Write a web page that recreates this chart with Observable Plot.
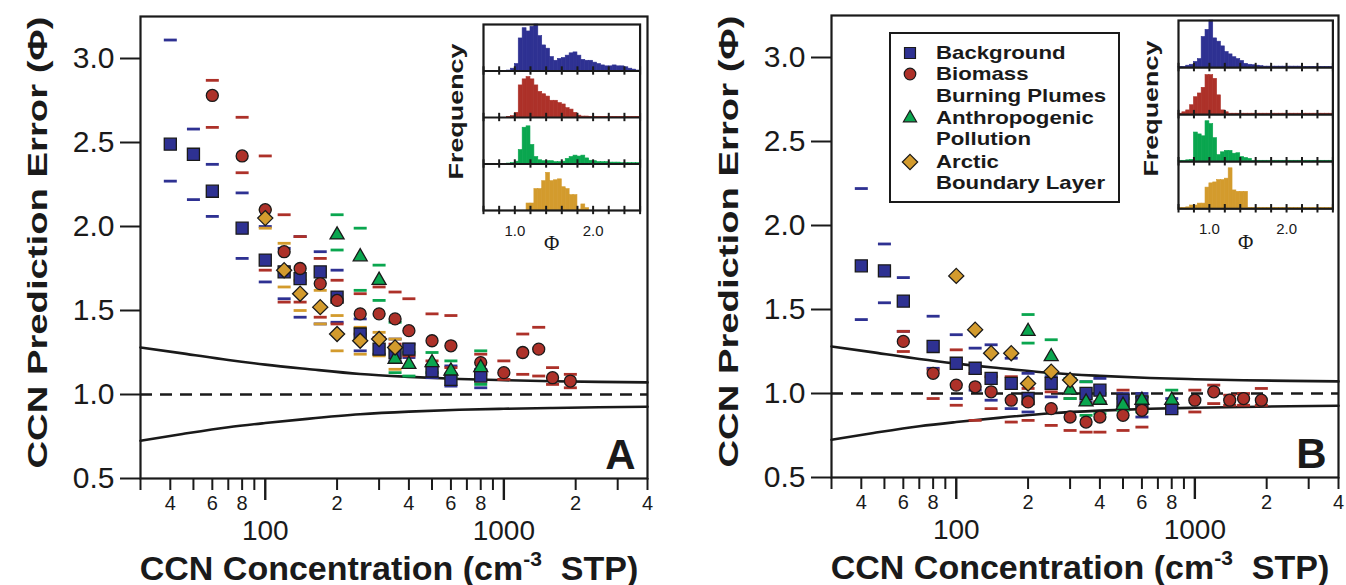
<!DOCTYPE html>
<html>
<head>
<meta charset="utf-8">
<script src="https://cdn.jsdelivr.net/npm/d3@7"></script>
<script src="https://cdn.jsdelivr.net/npm/@observablehq/plot@0.6"></script>
<style>
  body { margin: 0; background: #fff; }
  #wrap { position: relative; width: 1346px; height: 585px; overflow: hidden;
          font-family: "Liberation Sans", Arial, sans-serif; color: #1a1a1a; }
  .legend { position: absolute; box-sizing: border-box; border: 2.5px solid #1a1a1a; background: #fff; }
  .legend .ln { position: absolute; white-space: nowrap; font-weight: bold; font-size: 18.5px;
                line-height: 20px; transform: scaleX(1.2); transform-origin: left center; }
  .legend svg { position: absolute; overflow: visible; }
</style>
</head>
<body>
<div id="wrap"></div>
<script>
// ---------------- series definitions ----------------
const seriesNames   = ["Background", "Biomass Burning Plumes", "Anthropogenic Pollution", "Arctic Boundary Layer"];
const seriesColors  = ["#2e3192", "#ad3129", "#0aa64f", "#d39b2d"];
const seriesSymbols = ["square", "circle", "triangle", "diamond2"];

// ---------------- Panel A data (CCN concentration, Phi, upper, lower) ----------------
const A_bg_N   = [40, 50, 60, 80, 100, 120, 140, 170, 200, 250, 300, 350, 400, 500, 600, 800];
const A_bg_phi = [2.49, 2.43, 2.21, 1.99, 1.80, 1.73, 1.69, 1.73, 1.58, 1.36, 1.27, 1.25, 1.27, 1.14, 1.09, 1.11];
const A_bg_hi  = [3.11, 2.58, 2.37, 2.20, 2.00, 1.87, 1.94, 1.85, 1.74, 1.45, 1.33, 1.33, 1.30, 1.17, 1.17, 1.15];
const A_bg_lo  = [2.27, 2.16, 2.06, 1.81, 1.67, 1.57, 1.46, 1.42, 1.43, 1.26, 1.24, 1.20, 1.22, 1.10, 1.05, 1.04];

const A_bb_N   = [60, 80, 100, 120, 140, 170, 200, 250, 300, 350, 400, 500, 600, 800, 1000, 1200, 1400, 1600, 1900];
const A_bb_phi = [2.78, 2.42, 2.10, 1.85, 1.75, 1.66, 1.56, 1.48, 1.48, 1.45, 1.38, 1.32, 1.29, 1.19, 1.13, 1.25, 1.27, 1.10, 1.08];
const A_bb_hi  = [2.87, 2.65, 2.42, 2.07, 1.94, 1.81, 1.68, 1.60, 1.64, 1.61, 1.57, 1.48, 1.47, 1.24, 1.20, 1.36, 1.40, 1.16, 1.12];
const A_bb_lo  = [2.59, 2.32, 1.74, 1.55, 1.55, 1.46, 1.42, 1.36, 1.34, 1.30, 1.23, 1.20, 1.16, 1.12, 1.09, 1.12, 1.11, 1.06, 1.04];

const A_ap_N   = [200, 250, 300, 350, 400, 500, 600, 800];
const A_ap_phi = [1.95, 1.82, 1.68, 1.21, 1.18, 1.19, 1.14, 1.16];
const A_ap_hi  = [2.07, 1.99, 1.77, 1.43, 1.25, 1.25, 1.20, 1.26];
const A_ap_lo  = [1.86, 1.62, 1.56, 1.13, 1.11, 1.13, 1.10, 1.06];

const A_ar_N   = [100, 120, 140, 170, 200, 250, 300, 350];
const A_ar_phi = [2.05, 1.74, 1.60, 1.52, 1.36, 1.32, 1.33, 1.28];
const A_ar_hi  = [2.10, 1.90, 1.68, 1.62, 1.47, 1.40, 1.37, 1.33];
const A_ar_lo  = [1.99, 1.64, 1.50, 1.42, 1.26, 1.24, 1.23, 1.15];

// ---------------- Panel B data ----------------
const B_bg_N   = [40, 50, 60, 80, 100, 120, 140, 170, 200, 250, 350, 400, 500, 600, 800];
const B_bg_phi = [1.76, 1.73, 1.55, 1.28, 1.18, 1.15, 1.09, 1.06, 0.97, 1.06, 1.00, 1.02, 0.96, 0.95, 0.91];
const B_bg_hi  = [2.22, 1.89, 1.69, 1.46, 1.35, 1.27, 1.29, 1.21, 1.12, 1.10, 1.07, 1.09, 1.00, 1.00, 0.97];
const B_bg_lo  = [1.44, 1.54, 1.37, 1.15, 0.97, 1.02, 0.96, 0.91, 0.89, 0.98, 0.95, 0.95, 0.92, 0.86, 0.89];

const B_bb_N   = [60, 80, 100, 120, 140, 170, 200, 250, 300, 350, 400, 500, 600, 1000, 1200, 1400, 1600, 1900];
const B_bb_phi = [1.31, 1.12, 1.05, 1.04, 1.01, 0.96, 0.95, 0.91, 0.86, 0.83, 0.86, 0.87, 0.90, 0.96, 1.01, 0.96, 0.97, 0.96];
const B_bb_hi  = [1.37, 1.14, 1.26, 1.12, 1.10, 1.10, 1.03, 1.01, 0.97, 0.94, 0.95, 1.02, 0.98, 1.02, 1.05, 0.99, 1.00, 1.03];
const B_bb_lo  = [1.25, 0.97, 0.93, 0.84, 0.91, 0.83, 0.84, 0.81, 0.78, 0.77, 0.77, 0.78, 0.80, 0.89, 0.94, 0.93, 0.93, 0.93];

const B_ap_N   = [200, 250, 300, 350, 400, 500, 600, 800];
const B_ap_phi = [1.37, 1.22, 1.02, 0.95, 0.96, 0.93, 0.96, 0.96];
const B_ap_hi  = [1.47, 1.32, 1.09, 1.07, 1.00, 0.97, 0.98, 1.02];
const B_ap_lo  = [1.30, 1.12, 0.97, 0.87, 0.88, 0.90, 0.89, 0.91];

const B_ar_N   = [100, 120, 140, 170, 200, 250, 300];
const B_ar_phi = [1.70, 1.38, 1.24, 1.24, 1.06, 1.13, 1.08];
const B_ar_hi  = [];
const B_ar_lo  = [];

// ---------------- envelope curves ----------------
const curveN     = [30, 45, 70, 100, 150, 250, 400, 650, 1000, 1600, 2500, 4000];
const curveUpper = [1.28, 1.245, 1.205, 1.178, 1.152, 1.122, 1.105, 1.092, 1.085, 1.079, 1.075, 1.072];
const curveLower = [0.725, 0.765, 0.805, 0.830, 0.855, 0.882, 0.898, 0.909, 0.915, 0.920, 0.924, 0.927];

// ---------------- axis ticks ----------------
const yTicks      = [0.5, 1.0, 1.5, 2.0, 2.5, 3.0];
const xMinorTicks = [30, 40, 50, 60, 70, 80, 90, 200, 300, 400, 500, 600, 700, 800, 900, 2000, 3000, 4000];
const xMinorLabels= ["", "4", "", "6", "", "8", "", "2", "", "4", "", "6", "", "8", "", "2", "", "4"];
const xMajorTicks = [100, 1000];
const xMajorLabels= ["100", "1000"];

// ---------------- inset histograms (relative frequency, bins of 0.05 from 0.60) ----------------
const histBinStart = 0.60, histBinWidth = 0.05;
const histA_bg = [0,0,0,0,0,0,0.01,0.05,0.15,0.70,0.92,0.85,0.95,1.0,0.75,0.55,0.48,0.30,0.22,0.26,0.28,0.33,0.38,0.40,0.33,0.24,0.22,0.22,0.18,0.15,0.12,0.10,0.10,0.12,0.10,0.10,0.08,0.05,0.03,0.01];
const histA_bb = [0,0,0,0,0,0,0.01,0.03,0.10,0.69,0.82,0.87,0.82,0.69,0.55,0.50,0.45,0.36,0.36,0.31,0.28,0.20,0.17,0.10,0.04,0.02,0.02,0.01,0.01,0.01,0.01,0.01,0.01,0.01,0.01,0.01,0.01,0.01,0.01,0.01];
const histA_ap = [0,0,0,0,0,0,0.01,0.02,0.05,0.30,0.78,0.81,0.41,0.15,0.08,0.06,0.06,0.06,0.04,0.04,0.05,0.11,0.15,0.18,0.16,0.18,0.12,0.07,0.06,0.04,0.04,0.04,0.03,0.03,0.03,0.02,0.02,0.02,0.02,0.02];
const histA_ar = [0,0,0,0,0,0,0,0,0,0,0,0.15,0.15,0.46,0.46,0.63,0.81,0.63,0.65,0.67,0.50,0.46,0.33,0.33,0.02,0.13,0.05,0,0,0,0,0,0,0,0,0,0,0,0,0];
const histB_bg = [0.01,0.01,0.04,0.06,0.12,0.18,0.65,0.80,1.0,0.62,0.55,0.45,0.33,0.28,0.22,0.18,0.14,0.08,0.06,0.05,0.04,0.03,0.02,0.02,0.02,0.02,0.02,0.02,0.02,0.02,0.02,0.02,0.01,0.01,0.01,0.01,0.01,0.01,0.01,0.01];
const histB_bb = [0.02,0.05,0.09,0.20,0.37,0.45,0.57,0.84,0.84,0.76,0.41,0.09,0.05,0.02,0.02,0.02,0.02,0.02,0.02,0.02,0.02,0.02,0.02,0.02,0.02,0.02,0.02,0.02,0.02,0.02,0.02,0.02,0.02,0.02,0.02,0.02,0.02,0.02,0.02,0.02];
const histB_ap = [0.02,0.02,0.03,0.04,0.62,0.58,0.54,0.86,0.80,0.50,0.14,0.20,0.23,0.23,0.17,0.18,0.10,0.08,0.06,0.02,0.02,0.02,0.02,0.02,0.02,0.02,0.02,0.02,0.02,0.02,0.02,0.02,0.02,0.02,0.02,0.02,0.02,0.02,0.02,0.02];
const histB_ar = [0.02,0.02,0.03,0.07,0.07,0.11,0.11,0.45,0.54,0.56,0.61,0.61,0.64,0.86,0.39,0.36,0.36,0.36,0.02,0.02,0.02,0.02,0.02,0.02,0.02,0.02,0.02,0.02,0.02,0.02,0.02,0.02,0.02,0.02,0.02,0.02,0.02,0.02,0.02,0.02];
const insetTicks = [0.6, 0.8, 1.0, 1.2, 1.4, 1.6, 1.8, 2.0, 2.2, 2.4, 2.6];
const insetLabels = [1.0, 2.0];

// ---------------- text ----------------
const yTitle = "CCN Prediction Error (Φ)";
const xTitle = "CCN Concentration (cm-3 STP)";
const legendLines = [["Background"], ["Biomass", "Burning Plumes"], ["Anthropogenic", "Pollution"], ["Arctic", "Boundary Layer"]];

// ---------------- helpers ----------------
const ink = "#1a1a1a";
const dashSym = { draw(ctx) { ctx.moveTo(-6.5, 0); ctx.lineTo(6.5, 0); } };
const symbolR = [6.8, 6, 5.2, 6.8];
const rows = (N, vals) => N.map((n, i) => ({N: n, v: vals[i]})).filter(d => d.v != null);

const panelA = [
  {N: A_bg_N, phi: A_bg_phi, hi: A_bg_hi, lo: A_bg_lo},
  {N: A_bb_N, phi: A_bb_phi, hi: A_bb_hi, lo: A_bb_lo},
  {N: A_ap_N, phi: A_ap_phi, hi: A_ap_hi, lo: A_ap_lo},
  {N: A_ar_N, phi: A_ar_phi, hi: A_ar_hi, lo: A_ar_lo}
];
const panelB = [
  {N: B_bg_N, phi: B_bg_phi, hi: B_bg_hi, lo: B_bg_lo},
  {N: B_bb_N, phi: B_bb_phi, hi: B_bb_hi, lo: B_bb_lo},
  {N: B_ap_N, phi: B_ap_phi, hi: B_ap_hi, lo: B_ap_lo},
  {N: B_ar_N, phi: B_ar_phi, hi: B_ar_hi, lo: B_ar_lo}
];

function stretch(el, len) {
  el.setAttribute("text-anchor", "start");
  el.setAttribute("textLength", len);
  el.setAttribute("lengthAdjust", "spacingAndGlyphs");
  const x0 = +(el.getAttribute("x") || 0);
  el.setAttribute("x", x0 - len / 2);
}

function fixTexts(svg) {
  d3.select(svg).selectAll("text").each(function () {
    const t = this.textContent;
    if (t === yTitle) {
      stretch(this, 452);
    } else if (t === "Frequency") {
      stretch(this, 136);
    } else if (t === xTitle) {
      const sel = d3.select(this);
      sel.text(null);
      sel.append("tspan").text("CCN Concentration (cm");
      sel.append("tspan").attr("font-size", 21).attr("dy", -14).text("-3");
      sel.append("tspan").attr("dy", 14).text("  STP)");
    }
  });
}

const xMinorMap = new Map(xMinorTicks.map((t, i) => [t, xMinorLabels[i]]));
const xMajorMap = new Map(xMajorTicks.map((t, i) => [t, xMajorLabels[i]]));

function makePanel(data, letter) {
  const marks = [];
  marks.push(Plot.ruleY([1], {stroke: ink, strokeWidth: 2.3, strokeDasharray: "12,8"}));
  marks.push(Plot.line(rows(curveN, curveUpper), {x: "N", y: "v", curve: "monotone-x", stroke: ink, strokeWidth: 2.6}));
  marks.push(Plot.line(rows(curveN, curveLower), {x: "N", y: "v", curve: "monotone-x", stroke: ink, strokeWidth: 2.6}));
  data.forEach((s, i) => {
    marks.push(Plot.dot(rows(s.N, s.hi).concat(rows(s.N, s.lo)),
      {x: "N", y: "v", symbol: dashSym, fill: "none", stroke: seriesColors[i], strokeWidth: 2.8}));
  });
  data.forEach((s, i) => {
    marks.push(Plot.dot(rows(s.N, s.phi),
      {x: "N", y: "v", symbol: seriesSymbols[i], r: symbolR[i], fill: seriesColors[i], stroke: ink, strokeWidth: 1.3}));
  });
  marks.push(Plot.frame({stroke: ink, strokeWidth: 2.2}));
  // y axis
  marks.push(Plot.axisY(yTicks, {tickSize: 20, tickPadding: 6, tickFormat: d => d.toFixed(1), fontSize: 30, strokeWidth: 2, label: null}));
  // x axis: tick lines (labels drawn separately as text so none are filtered)
  marks.push(Plot.axisX(xMinorTicks, {tickSize: 12, tickFormat: () => "", strokeWidth: 2, label: null}));
  marks.push(Plot.axisX(xMajorTicks, {tickSize: 22, tickFormat: () => "", strokeWidth: 2.4, label: null}));
  marks.push(Plot.text(xMinorTicks, {x: d => d, text: d => xMinorMap.get(d), frameAnchor: "bottom", dy: 17.3, lineAnchor: "top", fontSize: 20}));
  marks.push(Plot.text(xMajorTicks, {x: d => d, text: d => xMajorMap.get(d), frameAnchor: "bottom", dy: 42, lineAnchor: "top", fontSize: 28}));
  // titles
  marks.push(Plot.text([yTitle], {text: d => d, frameAnchor: "left", dx: -102, dy: -5, rotate: -90, fontSize: 27, fontWeight: "bold"}));
  marks.push(Plot.text([xTitle], {text: d => d, frameAnchor: "bottom", dx: -5, dy: 101, lineAnchor: "bottom", fontSize: 34, fontWeight: "bold"}));
  marks.push(Plot.text([letter], {text: d => d, frameAnchor: "bottom-right", dx: -12, dy: -10, textAnchor: "end", lineAnchor: "bottom", fontSize: 42, fontWeight: "bold"}));
  const svg = Plot.plot({
    width: 654, height: 585,
    marginLeft: 140, marginRight: 7, marginTop: 16, marginBottom: 107,
    style: {fontFamily: "'Liberation Sans', Arial, sans-serif", background: "transparent", overflow: "visible", color: ink},
    x: {type: "log", domain: [30, 4000], axis: null},
    y: {domain: [0.5, 3.25], axis: null},
    marks
  });
  fixTexts(svg);
  return svg;
}

function makeInset(hists, frameW, frameH) {
  const marks = [];
  hists.forEach((arr, j) => {
    const k = 3 - j;
    const r = arr.map((h, i) => ({x1: histBinStart + i * histBinWidth, x2: histBinStart + (i + 1) * histBinWidth, y1: k, y2: k + h}))
                 .filter(d => d.y2 > d.y1);
    marks.push(Plot.rect(r, {x1: "x1", x2: "x2", y1: "y1", y2: "y2", fill: seriesColors[j], stroke: seriesColors[j], strokeWidth: 0.6}));
  });
  marks.push(Plot.ruleY([1, 2, 3], {stroke: ink, strokeWidth: 2.2}));
  marks.push(Plot.frame({stroke: ink, strokeWidth: 2.2}));
  const tickRows = [];
  [0, 1, 2, 3].forEach(k => insetTicks.forEach(t => tickRows.push({t, k})));
  marks.push(Plot.ruleX(tickRows, {x: "t", y1: d => d.k - 0.09, y2: d => d.k + 0.09, stroke: ink, strokeWidth: 2}));
  marks.push(Plot.text(insetLabels, {x: d => d, text: d => d.toFixed(1), frameAnchor: "bottom", dy: 15, lineAnchor: "top", fontSize: 15}));
  marks.push(Plot.text(["Φ"], {text: d => d, frameAnchor: "bottom", dx: -10, dy: 33, lineAnchor: "middle", fontSize: 21, fontFamily: "'Liberation Serif', serif"}));
  marks.push(Plot.text(["Frequency"], {text: d => d, frameAnchor: "left", dx: -27, dy: -6, rotate: -90, fontSize: 20, fontWeight: "bold"}));
  const svg = Plot.plot({
    width: 45 + frameW + 4, height: 4 + frameH + 42,
    marginLeft: 45, marginRight: 4, marginTop: 4, marginBottom: 42,
    style: {fontFamily: "'Liberation Sans', Arial, sans-serif", background: "transparent", overflow: "visible", color: ink},
    x: {domain: [0.6, 2.6], axis: null},
    y: {domain: [0, 4], axis: null},
    marks
  });
  fixTexts(svg);
  return svg;
}

const wrap = document.getElementById("wrap");
function place(el, left, top) {
  el.style.position = "absolute";
  el.style.left = left + "px";
  el.style.top = top + "px";
  wrap.appendChild(el);
}

place(makePanel(panelA, "A"), 0, 0);
place(makePanel(panelB, "B"), 691, -1.5);
place(makeInset([histA_bg, histA_bb, histA_ap, histA_ar], 156.6, 186), 482.7 - 45, 24 - 4);
place(makeInset([histB_bg, histB_bb, histB_ap, histB_ar], 154.4, 188.3), 1178.3 - 45, 20 - 4);

// ---------------- legend (panel B) ----------------
const legend = document.createElement("div");
legend.className = "legend";
legend.style.left = "889px"; legend.style.top = "31.7px";
legend.style.width = "231px"; legend.style.height = "171px";
const lineCenters = [21.6, 43.3, 65, 86.6, 108.3, 131, 151.6];
let li = 0;
legendLines.forEach((lines, j) => {
  const cy = lineCenters[li] - 2.5;
  const sv = d3.create("svg").attr("width", 16).attr("height", 16)
    .style("left", (21 - 2.5 - 8) + "px").style("top", (cy - 8) + "px");
  const sym = d3.symbol(
    [d3.symbolSquare, d3.symbolCircle, d3.symbolTriangle, d3.symbolDiamond2][j],
    [120, 105, 75, 150][j]);
  sv.append("path").attr("transform", "translate(8,8)").attr("d", sym())
    .attr("fill", seriesColors[j]).attr("stroke", ink).attr("stroke-width", 1.2);
  legend.appendChild(sv.node());
  lines.forEach(txt => {
    const c = lineCenters[li] - 2.5;
    const d = document.createElement("div");
    d.className = "ln";
    d.textContent = txt;
    d.style.left = (47.7 - 2.5) + "px";
    d.style.top = (c - 10) + "px";
    legend.appendChild(d);
    li++;
  });
});
wrap.appendChild(legend);
</script>
</body>
</html>
